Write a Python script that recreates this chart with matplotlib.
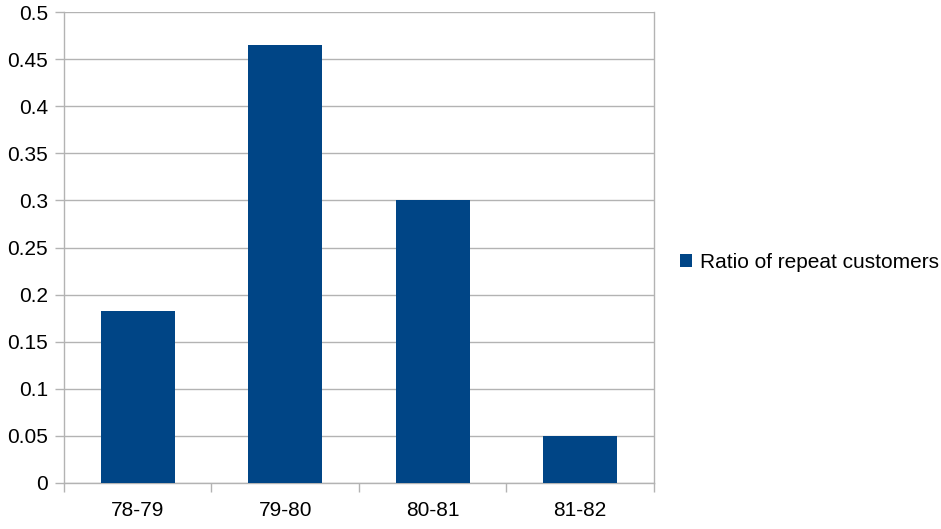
import numpy as np
import matplotlib
matplotlib.use("Agg")
import matplotlib.pyplot as plt
from matplotlib.patches import Patch

periods = ["78-79", "79-80", "80-81", "81-82"]
repeat_ratio = [0.183, 0.465, 0.300, 0.050]
y_ticks = [0, 0.05, 0.1, 0.15, 0.2, 0.25, 0.3, 0.35, 0.4, 0.45, 0.5]
y_tick_labels = ["0", "0.05", "0.1", "0.15", "0.2", "0.25", "0.3", "0.35", "0.4", "0.45", "0.5"]

BAR_COLOR = "#004586"
GRID_COLOR = "#b3b3b3"

plt.rcParams["font.family"] = ["Liberation Sans", "DejaVu Sans"]

fig = plt.figure(figsize=(9.41, 5.29), dpi=100)
ax = fig.add_axes([64 / 941, 46 / 529, 590 / 941, 471 / 529])

x = np.arange(len(periods))
ax.bar(x, repeat_ratio, width=0.5, color=BAR_COLOR, zorder=3)

ax.set_xlim(-0.5, len(periods) - 0.5)
ax.set_ylim(0, 0.5)

ax.set_yticks(y_ticks)
ax.set_yticklabels(y_tick_labels)
ax.yaxis.grid(True, color=GRID_COLOR, linewidth=1)
ax.set_axisbelow(True)

ax.set_xticks(x)
ax.set_xticklabels(periods)
ax.set_xticks(np.arange(len(periods) + 1) - 0.5, minor=True)
ax.tick_params(axis="x", which="major", length=0, pad=13)
ax.tick_params(axis="x", which="minor", length=6.5, width=1, color=GRID_COLOR)
ax.tick_params(axis="y", length=6.5, width=1, color=GRID_COLOR, pad=5)
ax.tick_params(labelsize=15, labelcolor="#000000")

for side in ["left", "right", "bottom"]:
    ax.spines[side].set_color(GRID_COLOR)
    ax.spines[side].set_linewidth(1)
ax.spines["top"].set_visible(False)

handle = Patch(facecolor=BAR_COLOR, edgecolor="none")
fig.legend([handle], ["Ratio of repeat customers"], loc="center left",
           bbox_to_anchor=(680 / 941, 1 - 262 / 529), frameon=False,
           fontsize=15, handlelength=0.58, handleheight=0.58, handletextpad=0.38,
           borderaxespad=0, borderpad=0)

fig.savefig("out.png", dpi=100)
